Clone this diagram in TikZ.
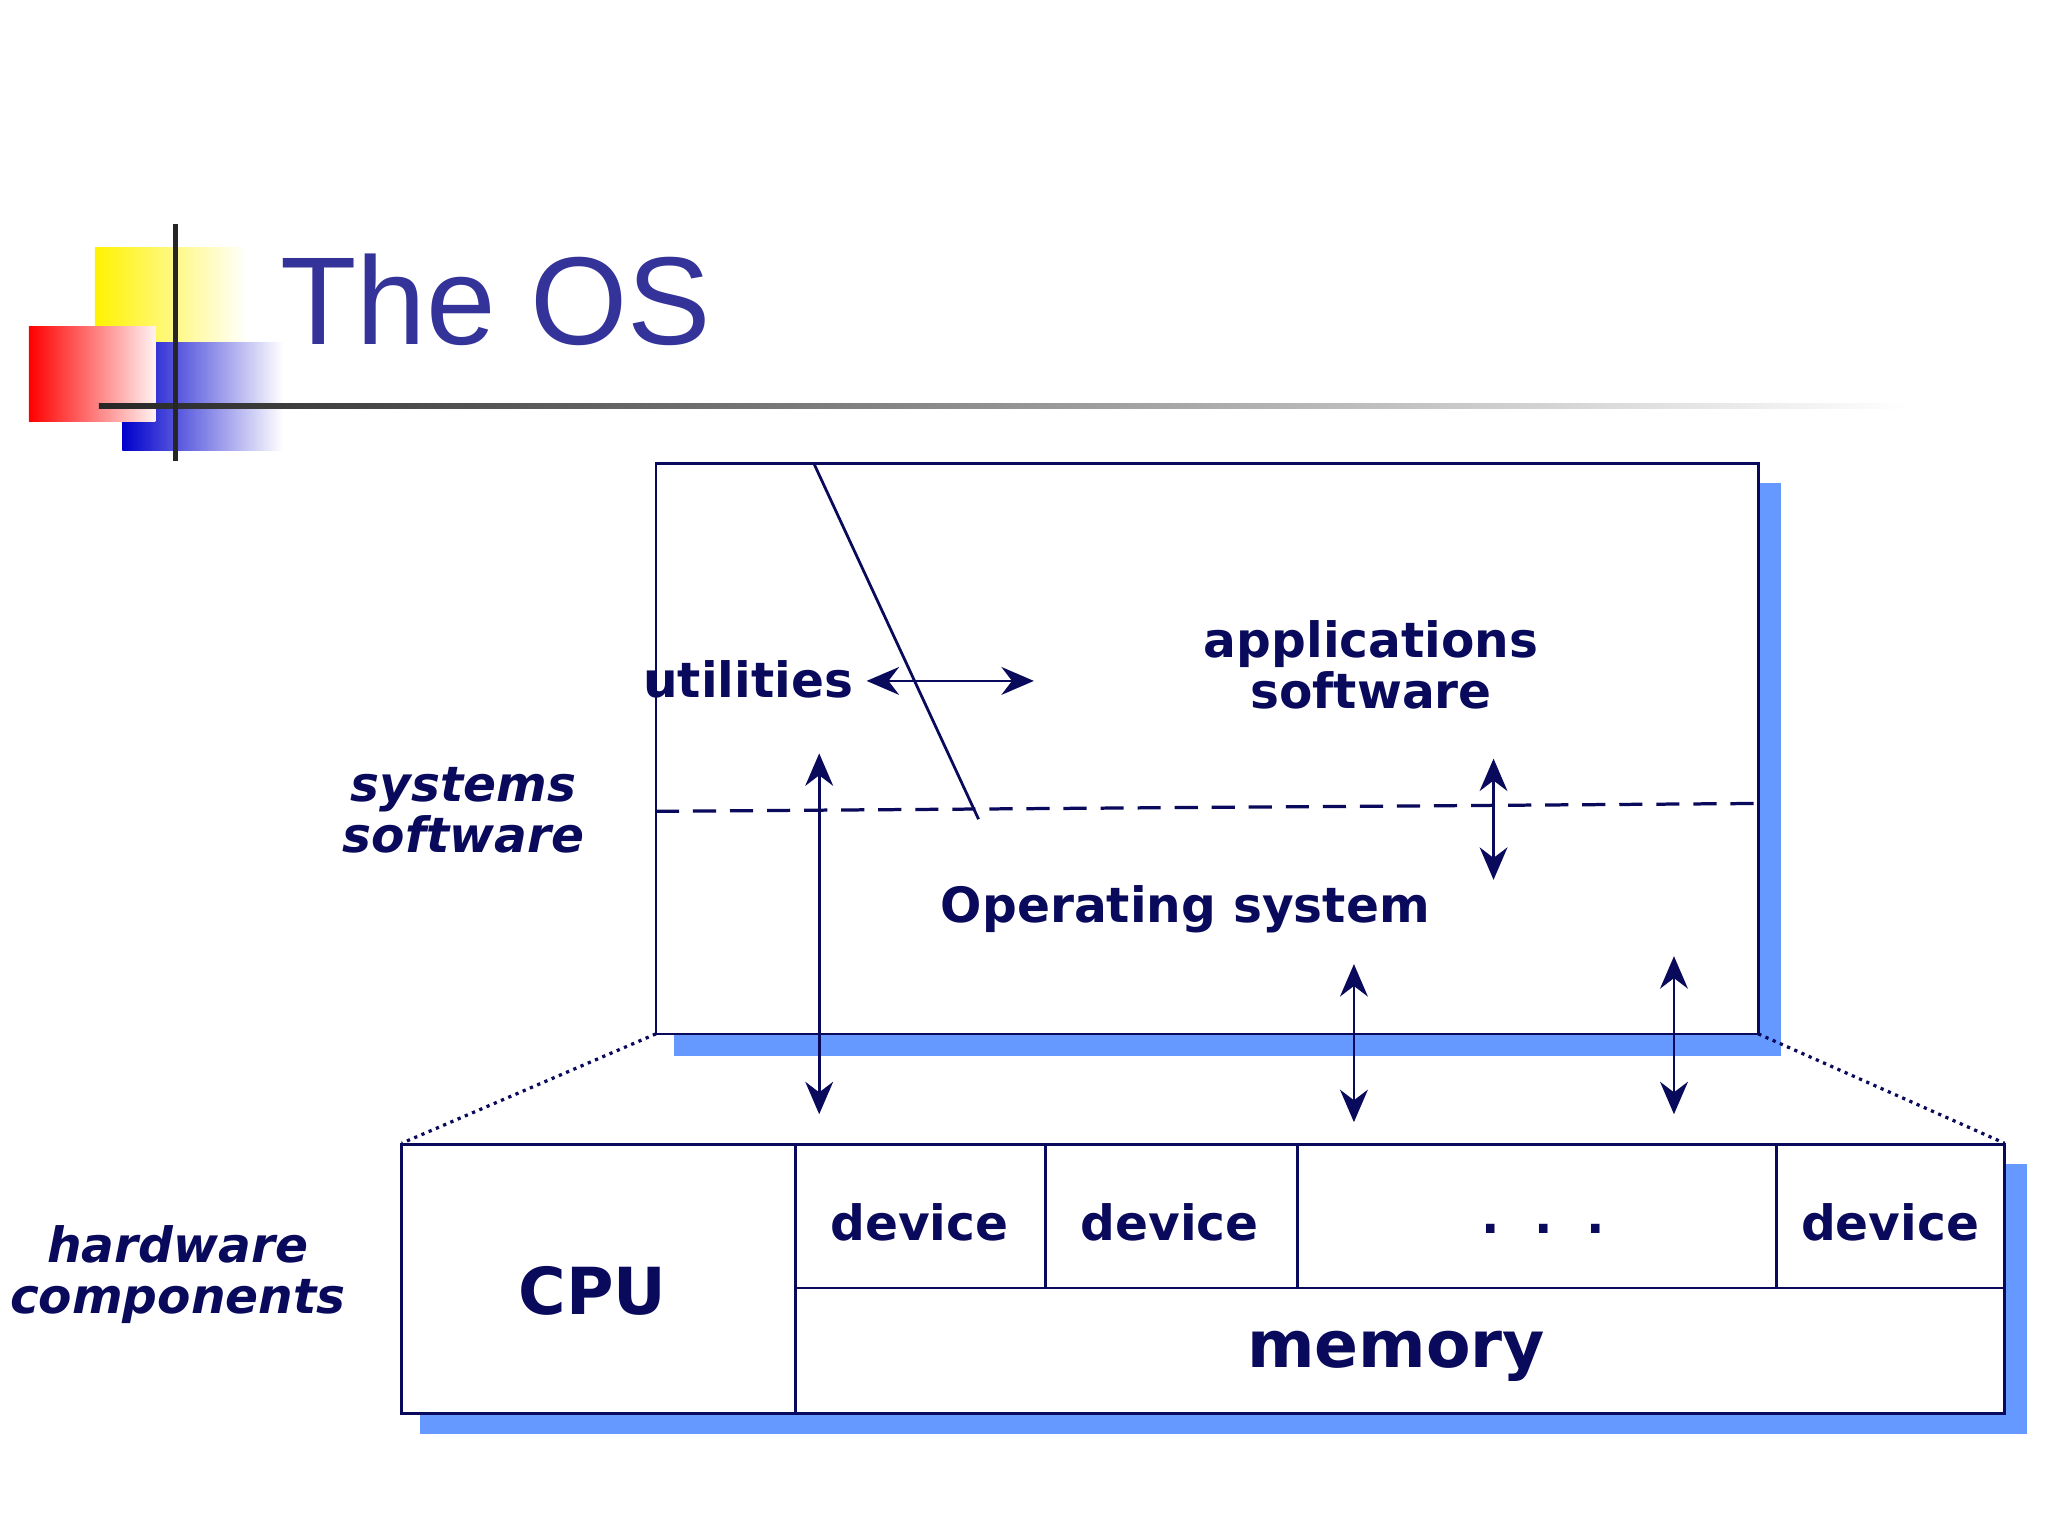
\documentclass[tikz,border=0pt]{standalone}
\usepackage{fontspec}
\setmainfont{DejaVu Sans}
\newfontfamily\titlefont{Liberation Sans}
\usetikzlibrary{arrows.meta,calc}
\definecolor{navy}{HTML}{0A0A5C}
\definecolor{titleblue}{HTML}{333399}
\definecolor{shadowblue}{HTML}{6699FF}
\tikzset{
  lbl/.style={text=navy,font=\bfseries\fontsize{10.5}{11}\selectfont,align=center,inner sep=0pt},
  big/.style={lbl,font=\bfseries\fontsize{14}{15}\selectfont},
  slant/.style={lbl,font=\bfseries\itshape\fontsize{10.5}{11}\selectfont},
  box/.style={draw=navy,fill=white,line width=0.6pt},
  shadow/.style={fill=shadowblue},
  biarrow/.style={draw=navy,line width=0.6pt,{Stealth[length=7pt,width=6pt]}-{Stealth[length=7pt,width=6pt]}},
}
\begin{document}
\begin{tikzpicture}[x=0.01cm,y=-0.01cm]
\useasboundingbox (0,0) rectangle (1555,1166);
% decoration
\shade[left color=yellow!90!orange,right color=white] (72,188) rectangle (188,305);
\shade[left color=blue!80!black,right color=white] (93,260) rectangle (215,342);
\shade[left color=red,right color=red!5] (22,248) rectangle (118,320);
\shade[left color=black!85,right color=white] (75,306) rectangle (1450,310);
\fill[black!85] (131,170) rectangle (135,350);
\node[font=\titlefont\fontsize{27}{27}\selectfont,text=titleblue,anchor=west,inner sep=0pt] (title) at (212,228) {The OS};
% software box
\fill[shadow] (512,367) rectangle (1352,802);
\draw[box] (498,352) rectangle (1335,785);
\coordinate (dtop) at (618,352); \coordinate (dbot) at (743,622);
\draw[navy,line width=0.6pt] (dtop) -- (dbot);
\coordinate (dl) at (498,616); \coordinate (dr) at (1340,610);
\draw[navy,line width=0.7pt,dash pattern=on 5pt off 3pt] (dl) -- (dr);
\node[lbl] (util) at (568,516) {utilities};
\node[lbl] (app) at (1041,505) {applications\\software};
\node[lbl] (os) at (900,690) {Operating system};
\node[slant] (sys) at (352,615) {systems\\software};
\coordinate (u1) at (658,517); \coordinate (u2) at (785,517);
\draw[biarrow] (u1) -- (u2);
\coordinate (a1) at (622,572); \coordinate (a2) at (622,846);
\draw[biarrow] (a1) -- (a2);
\coordinate (b1) at (1134,576); \coordinate (b2) at (1134,668);
\draw[biarrow] (b1) -- (b2);
\coordinate (c1) at (1028,732); \coordinate (c2) at (1028,852);
\draw[biarrow] (c1) -- (c2);
\coordinate (e1) at (1271,726); \coordinate (e2) at (1271,846);
\draw[biarrow] (e1) -- (e2);
% hardware box
\coordinate (sl) at (498,785); \coordinate (sr) at (1335,785);
\coordinate (hl) at (305,868); \coordinate (hr) at (1522,868);
\draw[navy,densely dotted,line width=0.7pt] (sl) -- (hl);
\draw[navy,densely dotted,line width=0.7pt] (sr) -- (hr);
\fill[shadow] (319,884) rectangle (1539,1089);
\draw[box] (305,869) rectangle (1522,1073);
\draw[navy,line width=0.6pt] (604,869) -- (604,1073) (604,978) -- (1522,978)
  (794,869) -- (794,978) (985,869) -- (985,978) (1349,869) -- (1349,978);
\node[big] (cpu) at (450,980) {CPU};
\node[lbl] (d1) at (698,928) {device};
\node[lbl] (d2) at (888,928) {device};
\node[lbl] (d3) at (1435,928) {device};
\node[lbl] (dots) at (1172,933) {.\hspace{0.7em}.\hspace{0.7em}.};
\node[big] (mem) at (1060,1030) {memory};
\node[slant] (hw) at (135,968) {hardware\\components};
\end{tikzpicture}
\end{document}
